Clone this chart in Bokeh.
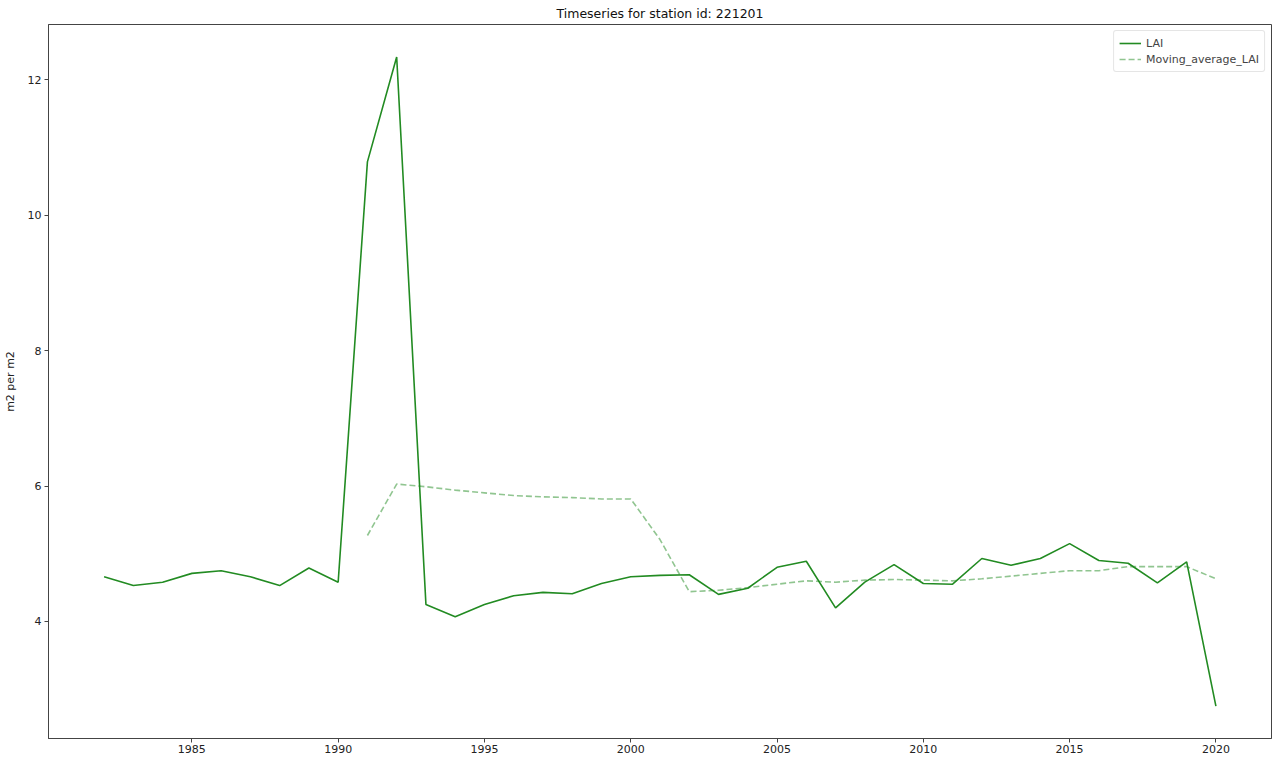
from bokeh.plotting import figure
from bokeh.models import Range1d, FixedTicker, Legend, LegendItem
from bokeh.embed import file_html
from bokeh.resources import INLINE

years = list(range(1982, 2021))
lai = [4.66, 4.53, 4.58, 4.71, 4.75, 4.66, 4.53, 4.79, 4.58, 10.79, 12.34,
       4.25, 4.07, 4.25, 4.38, 4.43, 4.41, 4.56, 4.66, 4.68, 4.69,
       4.40, 4.49, 4.80, 4.89, 4.20, 4.58, 4.84, 4.56, 4.55, 4.93,
       4.83, 4.93, 5.15, 4.90, 4.86, 4.57, 4.88, 2.75]
ma_years = list(range(1991, 2021))
ma_lai = [5.27, 6.03, 5.99, 5.94, 5.90, 5.86, 5.84, 5.83, 5.81, 5.81,
          5.21, 4.44, 4.46, 4.50, 4.55, 4.60, 4.58, 4.61, 4.62, 4.61,
          4.60, 4.63, 4.67, 4.71, 4.75, 4.75, 4.81, 4.81, 4.81, 4.63]
x_ticks = [1985, 1990, 1995, 2000, 2005, 2010, 2015, 2020]
y_ticks = [4, 6, 8, 10, 12]

xspan = max(years) - min(years)
ymin, ymax = min(lai), max(lai)
yspan = ymax - ymin

p = figure(width=1273, height=755, output_backend="svg", toolbar_location=None,
           x_range=Range1d(min(years) - 0.05 * xspan, max(years) + 0.05 * xspan),
           y_range=Range1d(ymin - 0.05 * yspan, ymax + 0.05 * yspan),
           title="Timeseries for station id: 221201")
p.min_border_left = 38
p.min_border_right = 2
p.min_border_bottom = 0
p.min_border_top = 17
p.background_fill_color = "white"
p.border_fill_color = "white"
p.outline_line_color = "#444444"
p.outline_line_width = 1
p.xgrid.visible = False
p.ygrid.visible = False

p.title.align = "center"
p.title.text_font = "DejaVu Sans"
p.title.text_font_size = "12.5px"
p.title.text_font_style = "normal"
p.title.text_color = "#111111"
p.title.standoff = 7

for ax in (p.xaxis[0], p.yaxis[0]):
    ax.axis_line_color = "#444444"
    ax.major_tick_line_color = "#444444"
    ax.major_tick_out = 4
    ax.major_tick_in = 0
    ax.minor_tick_line_color = None
    ax.major_label_text_font = "DejaVu Sans"
    ax.major_label_text_font_size = "11px"
    ax.major_label_text_color = "#222222"
    ax.major_label_standoff = 3
p.xaxis.major_label_standoff = 2
p.xaxis.ticker = FixedTicker(ticks=x_ticks)
p.yaxis.ticker = FixedTicker(ticks=y_ticks)
p.yaxis.axis_label = "m2 per m2"
p.yaxis.axis_label_text_font = "DejaVu Sans"
p.yaxis.axis_label_text_font_size = "11px"
p.yaxis.axis_label_text_font_style = "normal"
p.yaxis.axis_label_text_color = "#222222"
p.yaxis.axis_label_standoff = 8

r1 = p.line(years, lai, line_color="#228B22", line_width=1.6)
r2 = p.line(ma_years, ma_lai, line_color="#228B22", line_alpha=0.5,
            line_width=1.6, line_dash="6 3")

legend = Legend(items=[LegendItem(label="LAI", renderers=[r1]),
                       LegendItem(label="Moving_average_LAI", renderers=[r2])],
                location="top_right")
legend.label_text_font = "DejaVu Sans"
legend.label_text_font_size = "11px"
legend.label_height = 14
legend.glyph_height = 14
legend.glyph_width = 22
legend.spacing = 2
legend.padding = 5
legend.margin = 6
legend.border_line_color = "#cccccc"
legend.border_radius = 3
legend.background_fill_alpha = 0.8
p.add_layout(legend)

open("out.html", "w").write(file_html(p, INLINE))
